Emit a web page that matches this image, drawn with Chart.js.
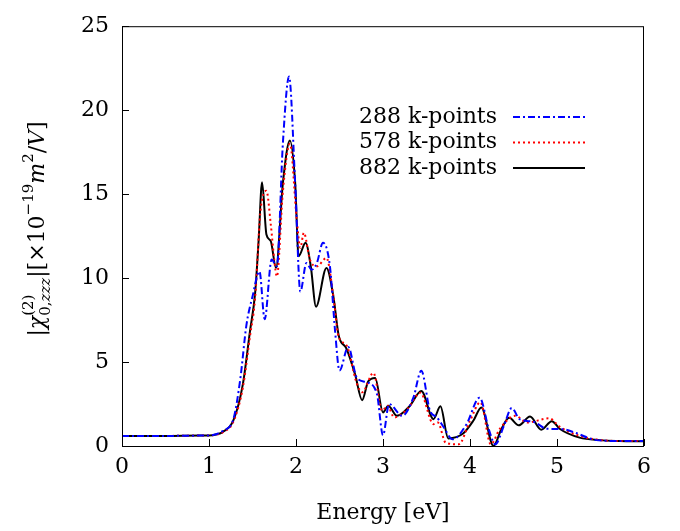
<!DOCTYPE html>
<html>
<head>
<meta charset="utf-8">
<script src="https://cdn.jsdelivr.net/npm/chart.js@4"></script>
<style>
  body { margin: 0; background: #fff; }
  canvas { display: block; }
</style>
</head>
<body>
<canvas id="chiChart" width="680" height="531"></canvas>
<script>
// Data
const energy288 = [0, 0.5, 0.9, 1.0, 1.08, 1.16, 1.28, 1.36, 1.43, 1.50, 1.58, 1.64, 1.72, 1.78, 1.85, 1.92, 1.99, 2.05, 2.12, 2.18, 2.24, 2.31, 2.39, 2.45, 2.50, 2.60, 2.70, 2.81, 2.93, 3.0, 3.07, 3.22, 3.35, 3.44, 3.54, 3.62, 3.70, 3.8, 3.96, 4.11, 4.22, 4.29, 4.39, 4.48, 4.57, 4.73, 4.88, 5.07, 5.22, 5.45, 5.7, 6.0];
const chi288 = [0.6, 0.6, 0.62, 0.63, 0.7, 0.9, 1.6, 4.0, 7.2, 8.9, 10.4, 7.55, 11.1, 10.7, 18.1, 22.0, 15.7, 9.2, 10.9, 10.5, 10.9, 12.1, 10.7, 6.8, 4.5, 5.9, 4.05, 3.8, 3.1, 0.64, 2.5, 1.8, 2.9, 4.48, 2.1, 1.7, 1.1, 0.4, 1.3, 2.88, 0.93, 0.1, 1.2, 2.26, 1.6, 1.44, 1.03, 1.0, 0.77, 0.35, 0.3, 0.3];

const energy578 = [0, 0.5, 0.9, 1.0, 1.08, 1.16, 1.28, 1.39, 1.47, 1.53, 1.59, 1.66, 1.71, 1.75, 1.78, 1.85, 1.93, 2.01, 2.05, 2.09, 2.16, 2.24, 2.35, 2.43, 2.49, 2.58, 2.70, 2.76, 2.89, 2.99, 3.05, 3.13, 3.28, 3.43, 3.58, 3.63, 3.72, 3.87, 4.0, 4.12, 4.24, 4.34, 4.52, 4.66, 4.91, 5.03, 5.26, 5.5, 5.75, 6.0];
const chi578 = [0.6, 0.6, 0.62, 0.62, 0.68, 0.82, 1.45, 3.5, 6.5, 8.8, 13.9, 15.2, 13.2, 11.1, 10.1, 15.2, 18.0, 13.4, 11.8, 12.7, 11.1, 10.7, 11.2, 8.9, 6.5, 6.0, 3.7, 3.2, 4.35, 2.1, 2.4, 1.7, 2.2, 3.17, 1.3, 1.4, 0.2, 0.1, 1.5, 2.6, 0.1, 1.0, 1.8, 1.4, 1.65, 1.15, 0.6, 0.35, 0.3, 0.3];

const energy882 = [0, 0.5, 0.9, 1.0, 1.08, 1.16, 1.28, 1.39, 1.47, 1.53, 1.57, 1.61, 1.66, 1.71, 1.77, 1.85, 1.93, 1.99, 2.03, 2.11, 2.17, 2.23, 2.35, 2.43, 2.49, 2.58, 2.68, 2.76, 2.83, 2.91, 3.0, 3.06, 3.16, 3.31, 3.44, 3.58, 3.66, 3.75, 3.92, 4.04, 4.13, 4.27, 4.36, 4.45, 4.56, 4.69, 4.82, 4.94, 5.03, 5.26, 5.49, 5.72, 6.0];
const chi882 = [0.6, 0.6, 0.62, 0.62, 0.68, 0.84, 1.52, 3.7, 6.8, 9.1, 12.2, 15.7, 12.6, 12.2, 10.6, 15.7, 18.2, 15.7, 11.3, 12.1, 10.7, 8.3, 10.6, 8.9, 6.6, 5.8, 4.25, 2.73, 3.85, 4.05, 2.0, 2.4, 1.8, 2.4, 3.27, 1.6, 2.36, 0.45, 0.74, 1.52, 2.3, 0.0, 1.0, 1.68, 1.23, 1.75, 0.97, 1.48, 1.03, 0.5, 0.35, 0.3, 0.28];

const seriesLabels = ["288 k-points", "578 k-points", "882 k-points"];
const xTicks = [0, 1, 2, 3, 4, 5, 6];
const yTicks = [0, 5, 10, 15, 20, 25];

const FONT = "'DejaVu Serif', 'Liberation Serif', serif";

function toPoints(xs, ys) {
  return xs.map((x, i) => ({ x: x, y: ys[i] }));
}

const styles = [
  { color: "#0000ff", dash: [7, 3, 2, 3] },
  { color: "#ff0000", dash: [2, 3] },
  { color: "#000000", dash: [] }
];

// Frame, inward ticks, legend and axis titles
const decorPlugin = {
  id: "decor",
  afterDraw(chart) {
    const ctx = chart.ctx;
    const area = chart.chartArea;
    const xs = chart.scales.x;
    const ys = chart.scales.y;
    ctx.save();
    ctx.strokeStyle = "#000";
    ctx.lineWidth = 1;
    ctx.setLineDash([]);
    ctx.strokeRect(area.left + 0.5, area.top + 0.5, area.right - area.left - 1, area.bottom - area.top);
    ctx.beginPath();
    xTicks.forEach(t => {
      const px = Math.round(xs.getPixelForValue(t)) + 0.5;
      ctx.moveTo(px, area.bottom);
      ctx.lineTo(px, area.bottom - 7);
    });
    yTicks.forEach(t => {
      const py = Math.round(ys.getPixelForValue(t)) + 0.5;
      ctx.moveTo(area.left, py);
      ctx.lineTo(area.left + 7, py);
    });
    ctx.stroke();

    // legend
    ctx.font = "22px " + FONT;
    ctx.fillStyle = "#000";
    ctx.textAlign = "right";
    ctx.textBaseline = "middle";
    seriesLabels.forEach((lab, i) => {
      const cy = 117 + i * 25.5;
      ctx.fillText(lab, 497, cy);
      ctx.strokeStyle = styles[i].color;
      ctx.lineWidth = 2;
      ctx.setLineDash(styles[i].dash);
      ctx.beginPath();
      ctx.moveTo(513, cy);
      ctx.lineTo(585, cy);
      ctx.stroke();
    });
    ctx.setLineDash([]);

    // x title
    ctx.textAlign = "center";
    ctx.textBaseline = "middle";
    ctx.font = "22px " + FONT;
    ctx.fillText("Energy [eV]", (area.left + area.right) / 2, 513);

    // y title, built from runs with super/subscripts
    const big = 22, small = 15;
    const runs = [
      { t: "|", s: big, it: false, dy: 0 },
      { t: "χ", s: big, it: true, dy: 0 },
      { stack: [[{ t: "(2)", s: small, it: false, dy: -11 }],
                [{ t: "0,", s: small, it: false, dy: 6 }, { t: "zzz", s: small, it: true, dy: 6 }]] },
      { t: "|[×10", s: big, it: false, dy: 0 },
      { t: "−19", s: small, it: false, dy: -11 },
      { t: "m", s: big, it: true, dy: 0 },
      { t: "2", s: small, it: false, dy: -11 },
      { t: "/", s: big, it: false, dy: 0 },
      { t: "V", s: big, it: true, dy: 0 },
      { t: "]", s: big, it: false, dy: 0 }
    ];
    const setFont = r => { ctx.font = (r.it ? "italic " : "") + r.s + "px " + FONT; };
    const widthOf = r => {
      if (r.stack) {
        return Math.max(...r.stack.map(line => line.reduce((w, p) => { setFont(p); return w + ctx.measureText(p.t).width; }, 0)));
      }
      setFont(r);
      return ctx.measureText(r.t).width;
    };
    const total = runs.reduce((w, r) => w + widthOf(r), 0);
    ctx.translate(44, 229);
    ctx.rotate(-Math.PI / 2);
    ctx.textAlign = "left";
    ctx.textBaseline = "alphabetic";
    let cx = -total / 2;
    runs.forEach(r => {
      const w = widthOf(r);
      if (r.stack) {
        r.stack.forEach(line => {
          let lx = cx;
          line.forEach(p => {
            setFont(p);
            ctx.fillText(p.t, lx, p.dy);
            lx += ctx.measureText(p.t).width;
          });
        });
      } else {
        setFont(r);
        ctx.fillText(r.t, cx, r.dy);
      }
      cx += w;
    });
    ctx.restore();
  }
};

const ctx = document.querySelector("#chiChart").getContext("2d");
const chiChart = new Chart(ctx, {
  type: "line",
  data: {
    datasets: [
      { label: seriesLabels[0], data: toPoints(energy288, chi288) },
      { label: seriesLabels[1], data: toPoints(energy578, chi578) },
      { label: seriesLabels[2], data: toPoints(energy882, chi882) }
    ].map((d, i) => Object.assign(d, {
      borderColor: styles[i].color,
      borderDash: styles[i].dash,
      borderWidth: 2,
      pointRadius: 0,
      fill: false,
      cubicInterpolationMode: "monotone"
    }))
  },
  options: {
    responsive: false,
    animation: false,
    layout: { padding: { top: 17, right: 36, left: 0, bottom: 0 } },
    plugins: {
      legend: { display: false },
      tooltip: { enabled: false }
    },
    scales: {
      x: {
        type: "linear",
        min: 0,
        max: 6,
        afterBuildTicks: scale => { scale.ticks = xTicks.map(v => ({ value: v })); },
        ticks: { color: "#000", font: { family: FONT, size: 22 }, padding: 8, maxRotation: 0 },
        grid: { display: false, drawTicks: false },
        border: { display: false },
        afterFit: scale => { scale.height = 85; }
      },
      y: {
        min: 0,
        max: 25,
        afterBuildTicks: scale => { scale.ticks = yTicks.map(v => ({ value: v })); },
        ticks: { color: "#000", font: { family: FONT, size: 22 }, padding: 13 },
        grid: { display: false, drawTicks: false },
        border: { display: false },
        afterFit: scale => { scale.width = 122; }
      }
    }
  },
  plugins: [decorPlugin]
});
</script>
</body>
</html>
